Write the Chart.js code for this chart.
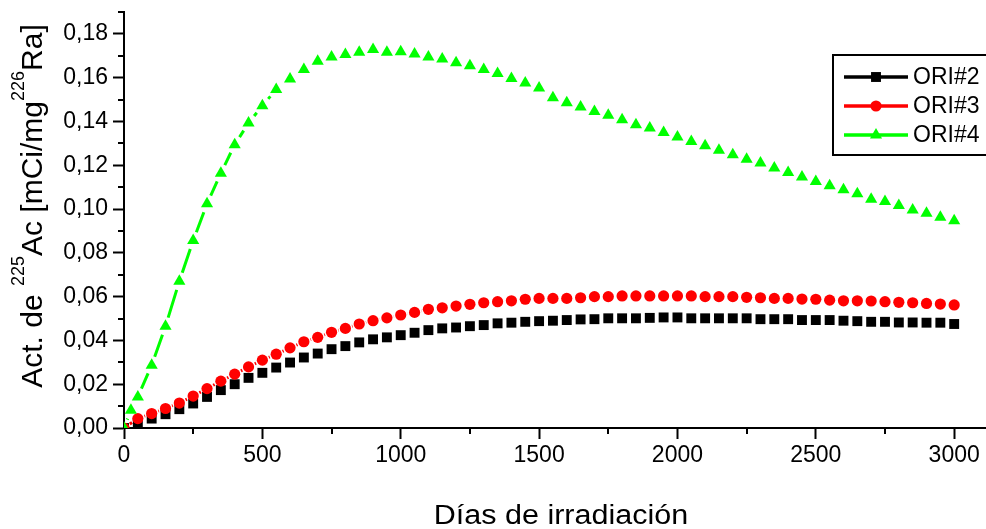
<!DOCTYPE html>
<html>
<head>
<meta charset="utf-8">
<script src="https://cdn.jsdelivr.net/npm/chart.js@4.4.1/dist/chart.umd.min.js"></script>
<style>
  html, body { margin: 0; padding: 0; background: #fff; }
  #wrap { width: 986px; height: 529px; }
</style>
</head>
<body>
<div id="wrap"><canvas id="chart" width="986" height="529"></canvas></div>
<script>
// dias de irradiacion (cada 50 dias)
const days = [0, 50, 100, 150, 200, 250, 300, 350, 400, 450, 500, 550, 600, 650, 700, 750,
  800, 850, 900, 950, 1000, 1050, 1100, 1150, 1200, 1250, 1300, 1350, 1400, 1450, 1500,
  1550, 1600, 1650, 1700, 1750, 1800, 1850, 1900, 1950, 2000, 2050, 2100, 2150, 2200, 2250,
  2300, 2350, 2400, 2450, 2500, 2550, 2600, 2650, 2700, 2750, 2800, 2850, 2900, 2950, 3000];
// ORI#4 tiene un punto extra a los 25 dias
const daysOri4 = [0, 25, 50, 100, 150, 200, 250, 300, 350, 400, 450, 500, 550, 600, 650, 700, 750,
  800, 850, 900, 950, 1000, 1050, 1100, 1150, 1200, 1250, 1300, 1350, 1400, 1450, 1500,
  1550, 1600, 1650, 1700, 1750, 1800, 1850, 1900, 1950, 2000, 2050, 2100, 2150, 2200, 2250,
  2300, 2350, 2400, 2450, 2500, 2550, 2600, 2650, 2700, 2750, 2800, 2850, 2900, 2950, 3000];

const ori2 = [0, 0.0020, 0.0043, 0.0063, 0.0086, 0.0112, 0.0142, 0.0173, 0.0200, 0.0229, 0.0252,
  0.0276, 0.0299, 0.0322, 0.0340, 0.0360, 0.0374, 0.0391, 0.0405, 0.0414, 0.0424,
  0.0435, 0.0447, 0.0455, 0.0459, 0.0465, 0.0470, 0.0478, 0.0481, 0.0485, 0.0488,
  0.0490, 0.0493, 0.0496, 0.0497, 0.0501, 0.0501, 0.0501, 0.0503, 0.0505, 0.0505,
  0.0501, 0.0501, 0.0501, 0.0501, 0.0501, 0.0497, 0.0497, 0.0497, 0.0493, 0.0493,
  0.0493, 0.0490, 0.0488, 0.0485, 0.0485, 0.0482, 0.0482, 0.0481, 0.0481, 0.0475];

const ori3 = [0, 0.0043, 0.0066, 0.0089, 0.0114, 0.0146, 0.0180, 0.0214, 0.0246, 0.0279, 0.0310,
  0.0337, 0.0366, 0.0394, 0.0414, 0.0437, 0.0455, 0.0475, 0.0490, 0.0503, 0.0516,
  0.0528, 0.0542, 0.0549, 0.0557, 0.0565, 0.0572, 0.0577, 0.0581, 0.0588, 0.0592,
  0.0592, 0.0592, 0.0595, 0.0600, 0.0600, 0.0603, 0.0603, 0.0603, 0.0603, 0.0603,
  0.0603, 0.0600, 0.0600, 0.0600, 0.0597, 0.0595, 0.0592, 0.0592, 0.0589, 0.0588,
  0.0584, 0.0581, 0.0581, 0.0580, 0.0577, 0.0574, 0.0572, 0.0569, 0.0566, 0.0562];

const ori4 = [0, 0.0081, 0.0142, 0.0287, 0.0465, 0.0670, 0.0856, 0.1024, 0.1164, 0.1294, 0.1393,
  0.1472, 0.1546, 0.1594, 0.1637, 0.1675, 0.1695, 0.1706, 0.1716, 0.1729, 0.1716,
  0.1718, 0.1708, 0.1695, 0.1685, 0.1668, 0.1655, 0.1637, 0.1619, 0.1596, 0.1576,
  0.1553, 0.1508, 0.1485, 0.1466, 0.1446, 0.1428, 0.1408, 0.1385, 0.1370, 0.1350,
  0.1329, 0.1309, 0.1289, 0.1268, 0.1248, 0.1228, 0.1210, 0.1187, 0.1167, 0.1146,
  0.1126, 0.1106, 0.1088, 0.1070, 0.1045, 0.1034, 0.1016, 0.0996, 0.0981, 0.0963, 0.0947];

const seriesNames = ["ORI#2", "ORI#3", "ORI#4"];
const xTickValues = [0, 500, 1000, 1500, 2000, 2500, 3000];
const xMinorTicks = [250, 750, 1250, 1750, 2250, 2750];
const yTickValues = [0, 0.02, 0.04, 0.06, 0.08, 0.10, 0.12, 0.14, 0.16, 0.18];
const yMinorTicks = [0.01, 0.03, 0.05, 0.07, 0.09, 0.11, 0.13, 0.15, 0.17, 0.19];
const xTitle = "Días de irradiación";
const yTitleParts = [["Act. de ", false], ["225", true], ["Ac [mCi/mg", false], ["226", true], ["Ra]", false]];

const FONT = '"Liberation Sans", Arial, sans-serif';

function pts(xs, ys) {
  return xs.map((x, i) => ({ x: x, y: ys[i] }));
}

function fallbackPoint(ctx, style, r, x, y) {
  ctx.beginPath();
  if (style === 'rect') {
    const s = r * Math.SQRT1_2;
    ctx.rect(x - s, y - s, 2 * s, 2 * s);
  } else if (style === 'triangle') {
    ctx.moveTo(x, y - r);
    ctx.lineTo(x + r * 0.866, y + r / 2);
    ctx.lineTo(x - r * 0.866, y + r / 2);
    ctx.closePath();
  } else {
    ctx.arc(x, y, r, 0, Math.PI * 2);
  }
  ctx.fill();
}

// lineas entre simbolos con hueco (como en Origin)
const gapLines = {
  id: 'gapLines',
  beforeDatasetsDraw(chart) {
    const ctx = chart.ctx, a = chart.chartArea;
    ctx.save();
    ctx.beginPath();
    ctx.rect(a.left, a.top, a.right - a.left, a.bottom - a.top);
    ctx.clip();
    chart.data.datasets.forEach((ds, i) => {
      const el = chart.getDatasetMeta(i).data;
      const g = ds.symbolGap;
      ctx.strokeStyle = ds.borderColor;
      ctx.lineWidth = ds.borderWidth;
      ctx.lineCap = 'butt';
      ctx.beginPath();
      for (let j = 1; j < el.length; j++) {
        const p = el[j - 1], q = el[j];
        const dx = q.x - p.x, dy = q.y - p.y;
        const len = Math.hypot(dx, dy);
        if (len <= 2 * g) continue;
        const ux = dx / len, uy = dy / len;
        ctx.moveTo(p.x + ux * g, p.y + uy * g);
        ctx.lineTo(q.x - ux * g, q.y - uy * g);
      }
      ctx.stroke();
    });
    ctx.restore();
  }
};

const decor = {
  id: 'decor',
  afterDraw(chart) {
    const ctx = chart.ctx;
    const xs = chart.scales.x, ys = chart.scales.y;
    const area = chart.chartArea;

    // ticks menores
    ctx.save();
    ctx.strokeStyle = '#000';
    ctx.lineWidth = 2;
    ctx.beginPath();
    yMinorTicks.forEach(v => {
      const py = Math.round(ys.getPixelForValue(v));
      ctx.moveTo(area.left - 6, py);
      ctx.lineTo(area.left, py);
    });
    xMinorTicks.forEach(v => {
      const px = Math.round(xs.getPixelForValue(v));
      ctx.moveTo(px, area.bottom);
      ctx.lineTo(px, area.bottom + 6);
    });
    ctx.stroke();
    ctx.restore();

    // titulo eje x
    ctx.save();
    ctx.fillStyle = '#000';
    ctx.font = '27px ' + FONT;
    ctx.textAlign = 'center';
    ctx.textBaseline = 'alphabetic';
    ctx.translate(561, 524);
    ctx.scale(1.13, 1);
    ctx.fillText(xTitle, 0, 0);
    ctx.restore();

    // titulo eje y con superindices
    ctx.save();
    ctx.fillStyle = '#000';
    ctx.textBaseline = 'alphabetic';
    ctx.translate(42, 206);
    ctx.rotate(-Math.PI / 2);
    const mainFont = '30px ' + FONT, supFont = '18px ' + FONT;
    let total = 0;
    const widths = yTitleParts.map(([t, sup]) => {
      ctx.font = sup ? supFont : mainFont;
      const w = ctx.measureText(t).width;
      total += w;
      return w;
    });
    let cx = -total / 2;
    yTitleParts.forEach(([t, sup], i) => {
      ctx.font = sup ? supFont : mainFont;
      ctx.fillText(t, cx, sup ? -18 : 0);
      cx += widths[i];
    });
    ctx.restore();

    // leyenda
    ctx.save();
    ctx.strokeStyle = '#000';
    ctx.lineWidth = 2;
    ctx.strokeRect(833, 55, 170, 100);
    const rows = [77, 106, 135];
    chart.data.datasets.forEach((ds, i) => {
      const y = rows[i];
      ctx.strokeStyle = ds.borderColor;
      ctx.lineWidth = 3.5;
      ctx.beginPath();
      ctx.moveTo(844, y);
      ctx.lineTo(908, y);
      ctx.stroke();
      ctx.fillStyle = ds.backgroundColor;
      if (Chart.helpers && Chart.helpers.drawPoint) {
        Chart.helpers.drawPoint(ctx, { pointStyle: ds.pointStyle, radius: ds.pointRadius, rotation: 0, borderWidth: 0 }, 876, y);
      } else {
        fallbackPoint(ctx, ds.pointStyle, ds.pointRadius, 876, y);
      }
      ctx.fillStyle = '#000';
      ctx.font = '23px ' + FONT;
      ctx.textAlign = 'left';
      ctx.textBaseline = 'middle';
      ctx.fillText(ds.label, 913, y + 1);
    });
    ctx.restore();
  }
};

const tickFont = { family: FONT, size: 23 };

new Chart(document.getElementById('chart').getContext('2d'), {
  type: 'scatter',
  data: {
    datasets: [
      { label: seriesNames[0], data: pts(days, ori2), borderColor: '#000000', backgroundColor: '#000000',
        pointStyle: 'rect', pointRadius: 7, pointBorderWidth: 0, borderWidth: 3, showLine: false,
        symbolGap: 8, order: 3, clip: 0 },
      { label: seriesNames[1], data: pts(days, ori3), borderColor: '#ff0000', backgroundColor: '#ff0000',
        pointStyle: 'circle', pointRadius: 5.6, pointBorderWidth: 0, borderWidth: 3, showLine: false,
        symbolGap: 7, order: 2, clip: 0 },
      { label: seriesNames[2], data: pts(daysOri4, ori4), borderColor: '#00ff00', backgroundColor: '#00ff00',
        pointStyle: 'triangle', pointRadius: 7, pointBorderWidth: 0, borderWidth: 3, showLine: false,
        symbolGap: 9, order: 1, clip: 0 }
    ]
  },
  options: {
    responsive: false,
    animation: false,
    layout: { autoPadding: false, padding: { top: 12, left: 0, right: 0, bottom: 0 } },
    plugins: { legend: { display: false }, tooltip: { enabled: false } },
    scales: {
      x: {
        type: 'linear',
        min: 0,
        max: 3115,
        afterBuildTicks(s) { s.ticks = xTickValues.map(v => ({ value: v })); },
        ticks: { color: '#000', font: tickFont, padding: 3, maxRotation: 0, autoSkip: false,
          callback: v => String(v) },
        grid: { drawOnChartArea: false, drawTicks: true, tickLength: 11, tickWidth: 2, tickColor: '#000' },
        border: { display: true, color: '#000', width: 2 },
        afterFit(s) { s.height = 101; s.paddingLeft = 0; s.paddingRight = 0; }
      },
      y: {
        type: 'linear',
        min: 0,
        max: 0.19,
        afterBuildTicks(s) { s.ticks = yTickValues.map(v => ({ value: v })); },
        ticks: { color: '#000', font: tickFont, padding: 5, autoSkip: false,
          callback: v => v.toFixed(2).replace('.', ',') },
        grid: { drawOnChartArea: false, drawTicks: true, tickLength: 11, tickWidth: 2, tickColor: '#000' },
        border: { display: true, color: '#000', width: 2 },
        afterFit(s) { s.width = 124; s.paddingTop = 0; s.paddingBottom = 0; }
      }
    }
  },
  plugins: [gapLines, decor]
});
</script>
</body>
</html>
